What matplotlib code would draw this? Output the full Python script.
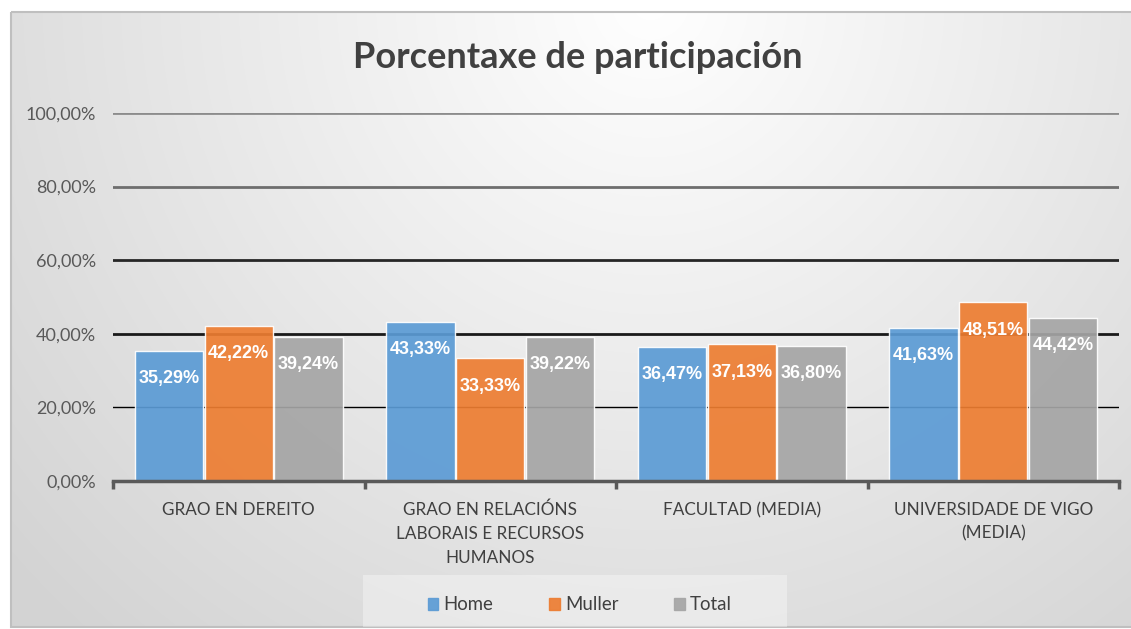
import numpy as np
import matplotlib.pyplot as plt
from matplotlib.patches import Rectangle

# Data
categories = ['GRAO EN DEREITO',
              'GRAO EN RELACIÓNS\nLABORAIS E RECURSOS\nHUMANOS',
              'FACULTAD (MEDIA)',
              'UNIVERSIDADE DE VIGO\n(MEDIA)']
series_names = ['Home', 'Muller', 'Total']
home = [35.29, 43.33, 36.47, 41.63]
muller = [42.22, 33.33, 37.13, 48.51]
total = [39.24, 39.22, 36.80, 44.42]
y_ticks = [0, 20, 40, 60, 80, 100]

colors = ['#5b9bd5', '#ed7d31', '#a5a5a5']

W, H = 1131, 629
fig = plt.figure(figsize=(W / 100, H / 100), dpi=100)

# Background: radial grey gradient inside the chart border
bg = fig.add_axes([0, 0, 1, 1], zorder=-10)
yy, xx = np.mgrid[0:H, 0:W]
r = np.hypot(xx - 650, yy - 0) / 850
shade = 1.0 - 0.17 * np.clip(r, 0, 1)
img = np.dstack([shade, shade, shade])
img[:12, :, :] = 1.0
img[:, :11, :] = 1.0
img[627:, :, :] = 1.0
bg.imshow(img, extent=(0, W, H, 0), aspect='auto', interpolation='bilinear')
bg.add_patch(Rectangle((11, 12), W, 615, fill=False, edgecolor='#bfbfbf', lw=1.5))
# legend box
bg.add_patch(Rectangle((363, 575), 424, 52, facecolor='white', alpha=0.35, edgecolor='none'))
bg.set_xlim(0, W)
bg.set_ylim(H, 0)
bg.axis('off')

ax = fig.add_axes([113 / W, 1 - 481 / H, (1119 - 113) / W, (481 - 113) / H])
ax.set_facecolor('none')

x = np.arange(len(categories))
bw = 0.272
for i, (vals, name) in enumerate(zip([home, muller, total], series_names)):
    bars = ax.bar(x + (i - 1) * 0.278, vals, width=bw, color=colors[i], alpha=0.92,
                  edgecolor=(1, 1, 1, 0.45), linewidth=1.0, label=name, zorder=3)
    for b, v in zip(bars, vals):
        ax.annotate(f'{v:.2f}%'.replace('.', ','),
                    xy=(b.get_x() + b.get_width() / 2, v), xytext=(0, -20),
                    textcoords='offset points', ha='center', va='center',
                    color='white', fontsize=13, fontweight='bold',
                    family='Liberation Sans', zorder=5)

# Gridlines
grid_colors = ['#595959', '#000000', '#1a1a1a', '#262626', '#6e6e6e', '#8c8c8c']
grid_widths = [0, 1.0, 2.0, 2.0, 2.0, 2.0]
for t, c, lw in zip(y_ticks, grid_colors, grid_widths):
    if lw:
        ax.axhline(t, color=c, lw=lw, zorder=2)

ax.set_ylim(0, 100)
ax.set_xlim(-0.5, len(categories) - 0.5)
ax.set_yticks(y_ticks)
ax.set_yticklabels([f'{t:.2f}%'.replace('.', ',') for t in y_ticks],
                   fontsize=13, color='#595959', family='Lato')
ax.tick_params(axis='y', length=0, pad=12)

ax.set_xticks(x)
ax.set_xticklabels(categories, fontsize=12.3, color='#404040', family='Lato',
                   linespacing=1.6)
ax.set_xticks(np.arange(-0.5, len(categories)), minor=True)
ax.tick_params(axis='x', which='major', length=0, pad=15)
ax.tick_params(axis='x', which='minor', length=6, width=2.5, color='#595959')

for side in ['top', 'right', 'left']:
    ax.spines[side].set_visible(False)
ax.spines['bottom'].set_color('#595959')
ax.spines['bottom'].set_linewidth(2.5)
ax.spines['bottom'].set_zorder(4)

fig.text(578 / W, 1 - 57 / H, 'Porcentaxe de participación', ha='center', va='center',
         fontsize=26, fontweight='bold', color='#404040', family='Lato')

handles = [Rectangle((0, 0), 1, 1, color=c, alpha=0.92) for c in colors]
fig.legend(handles, series_names, loc='center', bbox_to_anchor=(580 / W, 1 - 605 / H),
           ncol=3, frameon=False, handlelength=0.55, handleheight=0.55,
           handletextpad=0.3, columnspacing=3.0,
           prop={'family': 'Lato', 'size': 13.4}, labelcolor='#404040')

fig.savefig('out.png', dpi=100)
